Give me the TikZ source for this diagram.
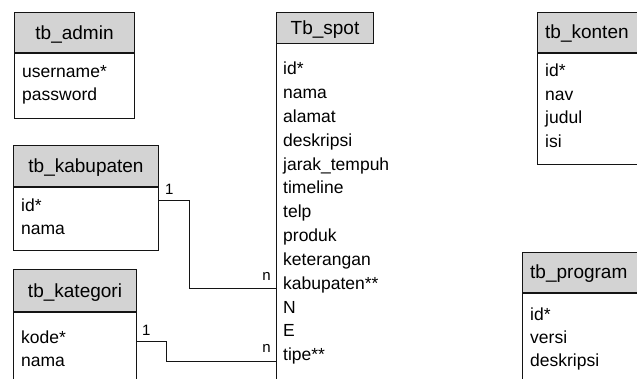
\documentclass[tikz,border=0pt]{standalone}
\usepackage{fontspec}
\setmainfont{Liberation Sans}
\definecolor{hdrgray}{RGB}{211,211,211}
\definecolor{linec}{RGB}{20,20,20}
\begin{document}
\begin{tikzpicture}[x=1pt,y=-1pt,
  hdr/.style={draw=linec, fill=hdrgray, line width=1pt, inner sep=0pt, anchor=north west},
  bodybox/.style={draw=linec, fill=white, line width=1pt, inner sep=0pt, anchor=north west},
  field/.style={anchor=base west, inner sep=0pt, font=\fontsize{17.5}{21}\selectfont},
  ttl/.style={anchor=base, inner sep=0pt, font=\fontsize{19}{23}\selectfont},
  lbl/.style={inner sep=0pt, font=\fontsize{15}{18}\selectfont},
  conn/.style={draw=linec, line width=1pt}]
\useasboundingbox (0,0) rectangle (637,379);
\clip (0,0) rectangle (637,379);
\fill[white] (0,0) rectangle (637,379);

% tb_admin
\node[hdr, minimum width=120pt, minimum height=40pt] (adminH) at (14,12) {};
\node[bodybox, minimum width=120pt, minimum height=65pt] (adminB) at (adminH.south west) {};
\node[ttl] (adminT) at ([yshift=-7pt]adminH.center) {tb\_admin};
\node[field] (a1) at (22,78) {username*};
\node[field] (a2) at (22,101) {password};

% tb_kabupaten
\node[hdr, minimum width=145pt, minimum height=41pt] (kabH) at (13,145) {};
\node[bodybox, minimum width=145pt, minimum height=63pt] (kabB) at (kabH.south west) {};
\node[ttl] (kabT) at ([yshift=-7pt]kabH.center) {tb\_kabupaten};
\node[field] (k1) at (21,212) {id*};
\node[field] (k2) at (21,235) {nama};

% tb_kategori
\node[hdr, minimum width=123pt, minimum height=42pt] (katH) at (13,269) {};
\node[bodybox, minimum width=123pt, minimum height=90pt] (katB) at (katH.south west) {};
\node[ttl] (katT) at ([yshift=-7pt]katH.center) {tb\_kategori};
\node[field] (c1) at (21,343) {kode*};
\node[field] (c2) at (21,366) {nama};

% Tb_spot
\node[hdr, minimum width=97pt, minimum height=31pt] (spotH) at (276,12) {};
\node[inner sep=0pt, anchor=north west, minimum width=97pt, minimum height=360pt] (spotB) at (spotH.south west) {};
\draw[conn] (spotB.north west) -- (spotB.south west);
\node[ttl] (spotT) at ([yshift=-7pt]spotH.center) {Tb\_spot};
\foreach \t [count=\i from 0] in {id*,nama,alamat,deskripsi,jarak\_tempuh,timeline,telp,produk,keterangan,kabupaten**,N,E,tipe**}{
  \node[field] (s\i) at (283,75+23.8*\i) {\t};
}

% tb_konten
\node[hdr, minimum width=130pt, minimum height=40pt] (konH) at (537,12) {};
\node[bodybox, minimum width=130pt, minimum height=111pt] (konB) at (konH.south west) {};
\node[ttl, anchor=base west] (konT) at (545,39) {tb\_konten};
\node[field] (n1) at (545,77) {id*};
\node[field] (n2) at (545,100.5) {nav};
\node[field] (n3) at (545,124) {judul};
\node[field] (n4) at (545,147.5) {isi};

% tb_program
\node[hdr, minimum width=140pt, minimum height=40pt] (proH) at (522,252) {};
\node[bodybox, minimum width=140pt, minimum height=100pt] (proB) at (proH.south west) {};
\node[ttl, anchor=base west] (proT) at (530,279) {tb\_program};
\node[field] (p1) at (530,320) {id*};
\node[field] (p2) at (530,343) {versi};
\node[field] (p3) at (530,366) {deskripsi};

% connectors
\coordinate (ky1) at (0,200.5);
\coordinate (ky2) at (0,289);
\coordinate (cy1) at (0,341);
\coordinate (cy2) at (0,361);
\draw[conn] (kabB.east |- ky1) -- ++(30,0) |- (spotB.west |- ky2);
\draw[conn] (katB.east |- cy1) -- ++(29,0) |- (spotB.west |- cy2);
\node[lbl, anchor=base west] (l1) at (165,195) {1};
\node[lbl, anchor=base east] (l2) at (271,280) {n};
\node[lbl, anchor=base west] (l3) at (142,335) {1};
\node[lbl, anchor=base east] (l4) at (271,352) {n};
\end{tikzpicture}
\end{document}
